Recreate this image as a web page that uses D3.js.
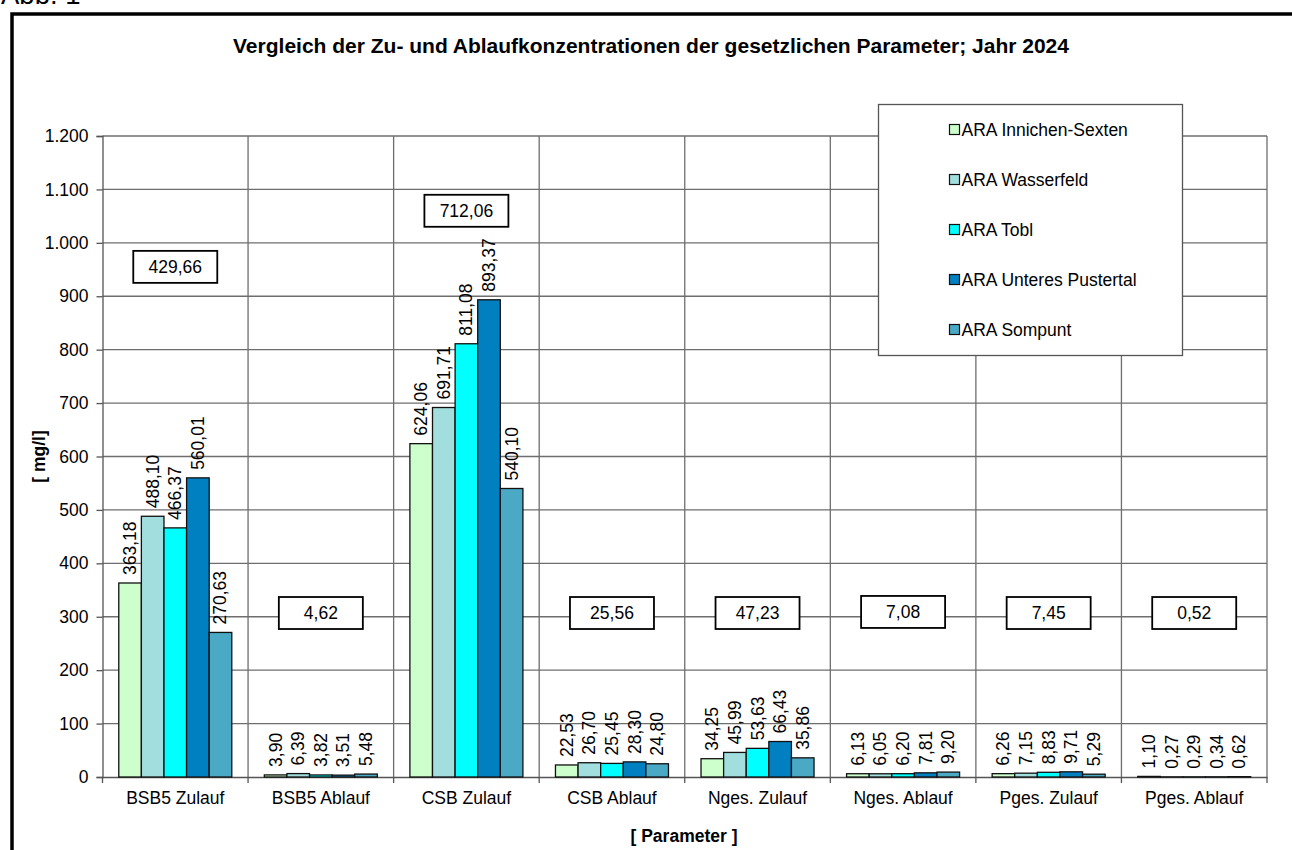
<!DOCTYPE html>
<html>
<head>
<meta charset="utf-8">
<script src="https://d3js.org/d3.v7.min.js"></script>
<style>
  body { margin: 0; background: #fff; overflow: hidden; }
  text { font-family: Arial, "Liberation Sans", sans-serif; }
</style>
</head>
<body>
<div id="cont"></div>
<script>
// data
var categories = ["BSB5 Zulauf", "BSB5 Ablauf", "CSB Zulauf", "CSB Ablauf",
                  "Nges. Zulauf", "Nges. Ablauf", "Pges. Zulauf", "Pges. Ablauf"];
var plants = ["ARA Innichen-Sexten", "ARA Wasserfeld", "ARA Tobl",
              "ARA Unteres Pustertal", "ARA Sompunt"];
var colors = ["#ccffcc", "#a3dede", "#00ffff", "#0080c0", "#4aaac6"];
var innichen   = [363.18, 3.90, 624.06, 22.53, 34.25, 6.13, 6.26, 1.10];
var wasserfeld = [488.10, 6.39, 691.71, 26.70, 45.99, 6.05, 7.15, 0.27];
var tobl       = [466.37, 3.82, 811.08, 25.45, 53.63, 6.20, 8.83, 0.29];
var unteres    = [560.01, 3.51, 893.37, 28.30, 66.43, 7.81, 9.71, 0.34];
var sompunt    = [270.63, 5.48, 540.10, 24.80, 35.86, 9.20, 5.29, 0.62];
var series = [innichen, wasserfeld, tobl, unteres, sompunt];
var averages = ["429,66", "4,62", "712,06", "25,56", "47,23", "7,08", "7,45", "0,52"];
var yTicks = [0, 100, 200, 300, 400, 500, 600, 700, 800, 900, 1000, 1100, 1200];

var W = 1292, H = 850;
var svg = d3.select("#cont").append("svg").attr("width", W).attr("height", H);

var pLeft = 102.5, pRight = 1267, pTop = 136, pBottom = 777;
var fs = 17.5;
var fmt = function (v) { return d3.format(".2f")(v).replace(".", ","); };
var fmtTick = function (v) { return d3.format(",")(v).replace(/,/g, "."); };

var x = d3.scaleBand().domain(categories).range([pLeft, pRight]).paddingInner(0).paddingOuter(0);
var x1 = d3.scaleBand().domain(d3.range(plants.length)).range([0, x.bandwidth()]).paddingOuter(0.72).paddingInner(0);
var y = d3.scaleLinear().domain([0, 1200]).range([pBottom, pTop]);

// frame + Abb. 1 (cut at top, as in the scan)
svg.append("text").attr("x", 1).attr("y", 4).attr("font-size", 27.5).text("Abb. 1");
svg.append("rect").attr("x", 12).attr("y", 14).attr("width", W).attr("height", H)
  .attr("fill", "none").attr("stroke", "#000").attr("stroke-width", 3.5);

svg.append("text").attr("x", 651).attr("y", 53).attr("text-anchor", "middle")
  .attr("font-size", 21).attr("font-weight", "bold")
  .text("Vergleich der Zu- und Ablaufkonzentrationen der gesetzlichen Parameter; Jahr 2024");

// grid
var g = svg.append("g");
g.selectAll(".hg").data(yTicks.filter(function (d) { return d > 0; })).enter().append("line")
  .attr("x1", pLeft).attr("x2", pRight).attr("y1", function (d) { return y(d); }).attr("y2", function (d) { return y(d); })
  .attr("stroke", "#6e6e6e").attr("stroke-width", 1.3);
g.selectAll(".vg").data(d3.range(1, categories.length + 1)).enter().append("line")
  .attr("x1", function (d) { return pLeft + d * x.bandwidth(); })
  .attr("x2", function (d) { return pLeft + d * x.bandwidth(); })
  .attr("y1", pTop).attr("y2", pBottom)
  .attr("stroke", "#6e6e6e").attr("stroke-width", 1.3);

// axes
var yAxis = svg.append("g").attr("transform", "translate(" + pLeft + ",0)")
  .call(d3.axisLeft(y).tickValues(yTicks).tickFormat(fmtTick).tickSize(6).tickPadding(8));
yAxis.select(".domain").attr("stroke", "#555").attr("stroke-width", 1.3);
yAxis.selectAll(".tick line").attr("stroke", "#555").attr("stroke-width", 1.3);
yAxis.selectAll("text").attr("font-size", fs).attr("fill", "#000")
  .style("font-family", "Arial, 'Liberation Sans', sans-serif");

var xAxis = svg.append("g").attr("transform", "translate(0," + pBottom + ")")
  .call(d3.axisBottom(x).tickSize(0).tickPadding(15));
xAxis.select(".domain").attr("stroke", "#555").attr("stroke-width", 1.3);
xAxis.selectAll(".tick line").remove();
xAxis.selectAll("text").attr("font-size", fs).attr("fill", "#000")
  .style("font-family", "Arial, 'Liberation Sans', sans-serif");
// x tick marks at category boundaries
svg.selectAll(".xt").data(d3.range(categories.length + 1)).enter().append("line")
  .attr("x1", function (d) { return pLeft + d * x.bandwidth(); })
  .attr("x2", function (d) { return pLeft + d * x.bandwidth(); })
  .attr("y1", pBottom).attr("y2", pBottom + 6)
  .attr("stroke", "#555").attr("stroke-width", 1.3);

// bars
var cg = svg.selectAll(".cat").data(categories).enter().append("g")
  .attr("transform", function (d) { return "translate(" + x(d) + ",0)"; });
cg.each(function (cat, ci) {
  var sel = d3.select(this);
  var vals = series.map(function (s, si) { return { v: s[ci], si: si }; });
  sel.selectAll("rect").data(vals).enter().append("rect")
    .attr("x", function (d) { return x1(d.si); })
    .attr("width", x1.bandwidth())
    .attr("y", function (d) { return y(d.v); })
    .attr("height", function (d) { return y(0) - y(d.v); })
    .attr("fill", function (d) { return colors[d.si]; })
    .attr("stroke", "#111").attr("stroke-width", 1.3);
  sel.selectAll("text.val").data(vals).enter().append("text")
    .attr("class", "val")
    .attr("transform", function (d) {
      return "translate(" + (x1(d.si) + x1.bandwidth() / 2 + 6) + "," + (y(d.v) - 8) + ") rotate(-90)";
    })
    .attr("font-size", fs).text(function (d) { return fmt(d.v); });
});

// average boxes (vertical placement in value units)
var boxLevel = [955, 307, 1060, 307, 307, 309, 307, 307];
var bw = 84, bh = 32;
var ab = svg.selectAll(".avg").data(categories).enter().append("g")
  .attr("transform", function (d, i) { return "translate(" + (x(d) + x.bandwidth() / 2) + "," + y(boxLevel[i]) + ")"; });
ab.append("rect").attr("x", -bw / 2).attr("y", -bh / 2).attr("width", bw).attr("height", bh)
  .attr("fill", "#fff").attr("stroke", "#000").attr("stroke-width", 1.8);
ab.append("text").attr("text-anchor", "middle").attr("dy", "0.36em").attr("font-size", fs)
  .text(function (d, i) { return averages[i]; });

// legend
var lg = svg.append("g").attr("transform", "translate(878.5,104.5)");
lg.append("rect").attr("width", 304).attr("height", 251).attr("fill", "#fff")
  .attr("stroke", "#555").attr("stroke-width", 1.3);
var li = lg.selectAll(".li").data(plants).enter().append("g")
  .attr("transform", function (d, i) { return "translate(71," + (25 + i * 50) + ")"; });
li.append("rect").attr("x", 0).attr("y", -5).attr("width", 10).attr("height", 10)
  .attr("fill", function (d, i) { return colors[i]; }).attr("stroke", "#111").attr("stroke-width", 1.2);
li.append("text").attr("x", 12).attr("dy", "0.36em").attr("font-size", fs).text(function (d) { return d; });

// axis titles
svg.append("text").attr("transform", "translate(45," + y(600) + ") rotate(-90)")
  .attr("text-anchor", "middle").attr("font-size", fs).attr("font-weight", "bold").text("[ mg/l]");
svg.append("text").attr("x", 684).attr("y", 842).attr("text-anchor", "middle")
  .attr("font-size", fs).attr("font-weight", "bold").text("[ Parameter ]");
</script>
</body>
</html>
